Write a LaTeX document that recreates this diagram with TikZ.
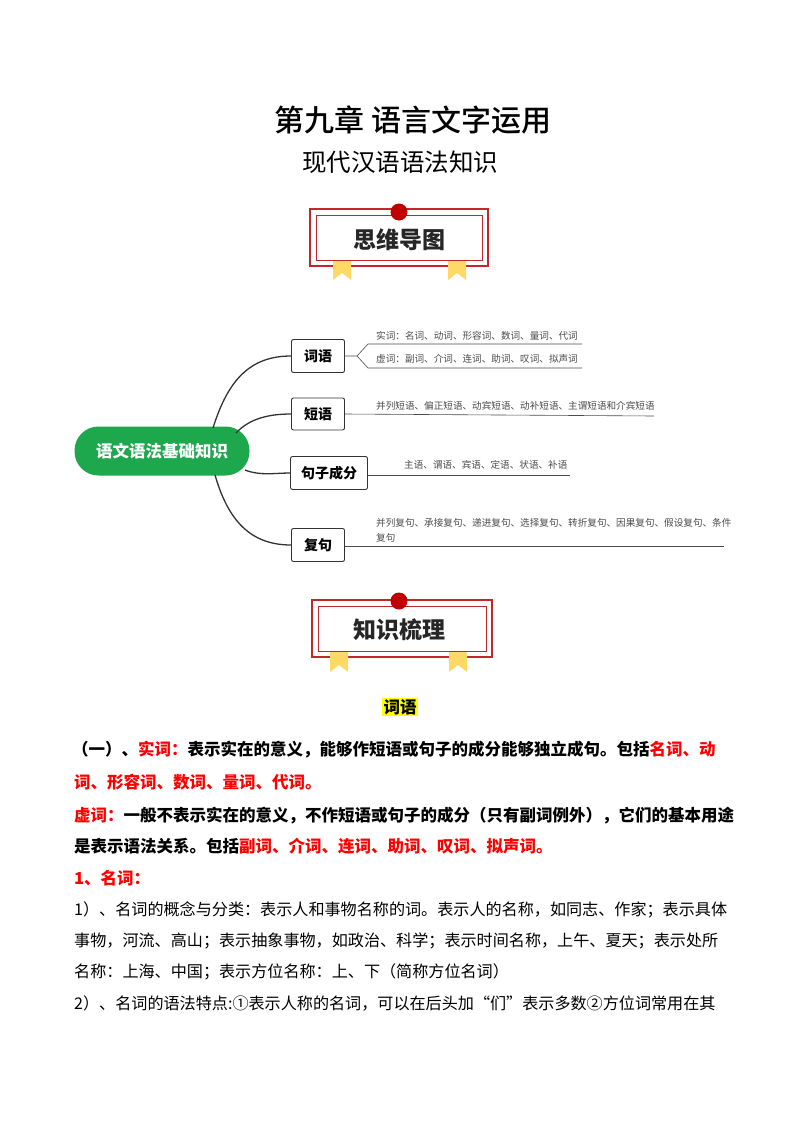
\documentclass[tikz,border=0pt]{standalone}
\usepackage{fontspec}
\setmainfont{Noto Sans CJK SC}
\newfontfamily\cjk{Noto Sans CJK SC}
\newfontfamily\cjkm{Noto Sans CJK SC Medium}
\definecolor{banred}{HTML}{C0282D}
\definecolor{dotred}{HTML}{C00000}
\definecolor{ribbon}{HTML}{FFD966}
\definecolor{mgreen}{HTML}{1EA84E}
\definecolor{hl}{HTML}{FFFF00}
\begin{document}
\begin{tikzpicture}[x=1pt,y=-1pt,
  box/.style={draw=black!80,line width=0.9pt,rounded corners=2pt,fill=white,inner sep=0pt,font=\fontsize{14}{14}\selectfont\bfseries},
  small/.style={font=\fontsize{9.6}{10}\selectfont,text=black!70,inner sep=0pt,anchor=west},
  bline/.style={black!70,line width=0.6pt},
  branch/.style={black!80,line width=1.3pt},
  body/.style={anchor=west,inner sep=0pt,font=\fontsize{16.1}{16}\selectfont},
  bbody/.style={body,font=\fontsize{16.5}{16}\selectfont\bfseries}]
\useasboundingbox[fill=white] (0,0) rectangle (800,1132);
% titles
\node[font=\fontsize{30}{30}\selectfont\cjkm] (t1) at (413,120) {第九章\ 语言文字运用};
\node[font=\fontsize{24.5}{24}\selectfont] (t2) at (400,162) {现代汉语语法知识};
% banner 1
\draw[banred,line width=1.2pt] (310,209) rectangle (488,266);
\draw[banred,line width=0.8pt] (316,215) rectangle (482,260);
\fill[dotred] (399,212) circle (8.5);
\fill[ribbon] (333,261) -- (351,261) -- (351,280) -- (342,273) -- (333,280) -- cycle;
\fill[ribbon] (448,261) -- (466,261) -- (466,280) -- (457,273) -- (448,280) -- cycle;
\node[font=\fontsize{23}{23}\selectfont\bfseries,text=black!85] (b1) at (399,240) {思维导图};
% mind map
\node[fill=mgreen,rounded corners=24pt,minimum width=175pt,minimum height=49pt,text=white,font=\fontsize{16.5}{16}\selectfont\bfseries] (c) at (162,451) {语文语法基础知识};
\node[box,minimum width=53pt,minimum height=33pt] (n1) at (318,356) {词语};
\node[box,minimum width=53pt,minimum height=32pt] (n2) at (318,414) {短语};
\node[box,minimum width=77pt,minimum height=33pt] (n3) at (329,473) {句子成分};
\node[box,minimum width=53pt,minimum height=33pt] (n4) at (318,545) {复句};
\draw[branch] (213,428) .. controls (228,380) and (250,356) .. (n1.west);
\draw[branch] (236,433) .. controls (250,418) and (270,414) .. (n2.west);
\draw[branch] (245,470) .. controls (260,476) and (275,473) .. (n3.west);
\draw[branch] (215,475) .. controls (228,520) and (250,545) .. (n4.west);
\coordinate (f) at (357,356);
\coordinate (u1) at (368,344); \coordinate (u2) at (582,344);
\coordinate (l1) at (368,368); \coordinate (l2) at (582,368);
\draw[bline] (n1.east) -- (f) -- (u1) -- (u2);
\draw[bline] (f) -- (l1) -- (l2);
\node[small] (s1) at (376,336) {实词：名词、动词、形容词、数词、量词、代词};
\node[small] (s2) at (376,359) {虚词：副词、介词、连词、助词、叹词、拟声词};
\coordinate (e2) at (654,416);
\draw[bline] (n2.east) -- (e2);
\node[small] (s3) at (376,406) {并列短语、偏正短语、动宾短语、动补短语、主谓短语和介宾短语};
\coordinate (e3) at (570,475);
\draw[bline] (n3.east |- e3) -- (e3);
\node[small] (s4) at (404,465) {主语、谓语、宾语、定语、状语、补语};
\coordinate (e4) at (724,546);
\draw[bline] (n4.east |- e4) -- (e4);
\node[small,align=left,font=\fontsize{9.6}{15}\selectfont] (s5) at (376,530) {并列复句、承接复句、递进复句、选择复句、转折复句、因果复句、假设复句、条件\\复句};
% banner 2
\draw[banred,line width=1.2pt] (312,600) rectangle (492,657);
\draw[banred,line width=0.8pt] (318,606) rectangle (486,651);
\fill[dotred] (399,601) circle (8.5);
\fill[ribbon] (330,652) -- (348,652) -- (348,672) -- (339,665) -- (330,672) -- cycle;
\fill[ribbon] (449,652) -- (467,652) -- (467,672) -- (458,665) -- (449,672) -- cycle;
\node[font=\fontsize{23}{23}\selectfont\bfseries,text=black!85] (b2) at (399,630) {知识梳理};
% body
\node[fill=hl,inner sep=1.5pt,font=\fontsize{16.5}{16}\selectfont\bfseries] (h) at (400,707) {词语};
\node[bbody] (p1) at (72,750) {（一）、\textcolor{red}{实词：}表示实在的意义，能够作短语或句子的成分能够独立成句。包括\textcolor{red}{名词、动}};
\node[bbody,text=red] (p2) at (74,782) {词、形容词、数词、量词、代词。};
\node[bbody] (p3) at (74,816) {\textcolor{red}{虚词：}一般不表示实在的意义，不作短语或句子的成分（只有副词例外），它们的基本用途};
\node[bbody] (p4) at (74,846) {是表示语法关系。包括\textcolor{red}{副词、介词、连词、助词、叹词、拟声词。}};
\node[bbody,text=red] (p5) at (74,878) {1、名词：};
\node[body] (p6) at (74,910) {1）、名词的概念与分类：表示人和事物名称的词。表示人的名称，如同志、作家；表示具体};
\node[body] (p7) at (74,941) {事物，河流、高山；表示抽象事物，如政治、科学；表示时间名称，上午、夏天；表示处所};
\node[body] (p8) at (74,972) {名称：上海、中国；表示方位名称：上、下（简称方位名词）};
\node[body] (p9) at (74,1003) {2）、名词的语法特点:①表示人称的名词，可以在后头加“们”表示多数②方位词常用在其};
\end{tikzpicture}
\end{document}
